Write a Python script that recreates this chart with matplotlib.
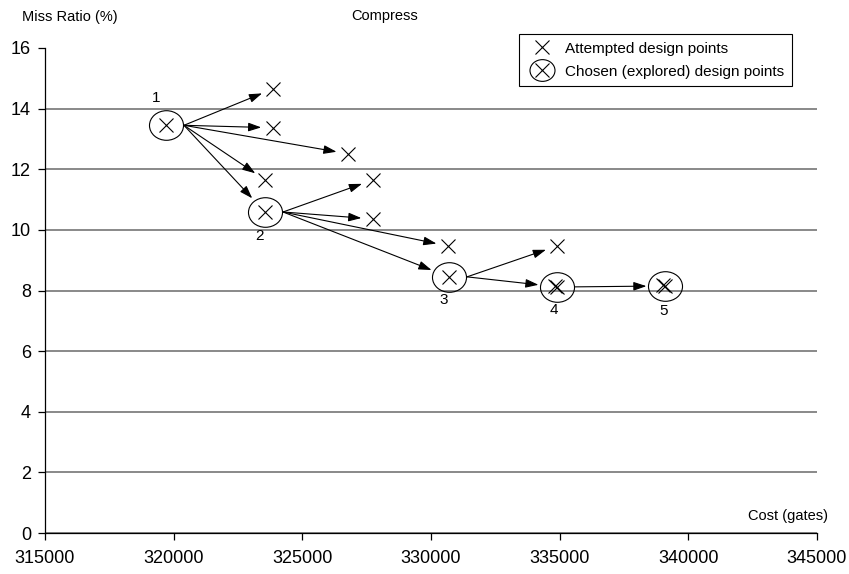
import matplotlib
matplotlib.use("Agg")
import matplotlib.pyplot as plt
import matplotlib.transforms as mtransforms
from matplotlib.lines import Line2D
from matplotlib.path import Path
import numpy as np

plt.rcParams['font.family'] = ['Liberation Sans', 'DejaVu Sans']

# puntos elegidos (explorados), numerados 1..5
chosen_cost = [319700, 323550, 330700, 334900, 339100]
chosen_miss = [13.45, 10.59, 8.45, 8.12, 8.15]
chosen_labels = ["1", "2", "3", "4", "5"]

# puntos intentados y de qué punto elegido salen
attempted_cost = [323860, 323860, 326780, 323550, 327750, 327750, 330660, 334900, 334800, 339000]
attempted_miss = [14.65, 13.37, 12.51, 11.65, 11.65, 10.36, 9.47, 9.47, 8.16, 8.18]
attempted_parent = [0, 0, 0, 0, 1, 1, 1, 2, None, None]

x_ticks = [315000, 320000, 325000, 330000, 335000, 340000, 345000]
y_ticks = [0, 2, 4, 6, 8, 10, 12, 14, 16]


def main():
    fig = plt.figure(figsize=(8.49, 5.74), dpi=100)
    ax = fig.add_axes([45 / 849, 1 - 533 / 574, (817 - 45) / 849, (533 - 48) / 574])

    ax.set_xlim(315000, 345000)
    ax.set_ylim(0, 16)
    ax.set_xticks(x_ticks)
    ax.set_yticks(y_ticks)
    ax.set_xticklabels([str(t) for t in x_ticks])
    ax.tick_params(axis='both', labelsize=13, length=5, width=0.9, color='black')
    ax.tick_params(axis='x', pad=7)
    ax.tick_params(axis='y', pad=5)

    for s in ["top", "right"]:
        ax.spines[s].set_visible(False)
    for s in ["left", "bottom"]:
        ax.spines[s].set_linewidth(0.9)

    ax.yaxis.grid(True, color='#6a6a6a', linewidth=1.1)
    ax.set_axisbelow(True)
    gl = ax.yaxis.get_gridlines()
    gl[-1].set_visible(False)

    circ = Path.unit_circle()
    ellipse = Path(circ.vertices * np.array([1.15, 1.0]), circ.codes)

    ax.plot(attempted_cost, attempted_miss, linestyle='none', marker='x',
            markersize=10, markeredgewidth=0.8, color='black', zorder=4)
    ax.plot(chosen_cost, chosen_miss, linestyle='none', marker='x',
            markersize=10, markeredgewidth=0.8, color='black', zorder=4)
    ax.plot(chosen_cost, chosen_miss, linestyle='none', marker=ellipse,
            markersize=24.5, markeredgewidth=0.8, markerfacecolor='none',
            markeredgecolor='black', zorder=4)

    # las flechas salen del borde derecho del circulo
    inicio = ax.transData + mtransforms.ScaledTranslation(18 / 100, 0, fig.dpi_scale_trans)
    estilo = dict(arrowstyle='-|>,head_length=0.65,head_width=0.22', color='black',
                  lw=0.8, mutation_scale=12, shrinkA=0)

    for c, m, p in zip(attempted_cost, attempted_miss, attempted_parent):
        if p is None:
            continue
        ax.annotate("", xy=(c, m), xytext=(chosen_cost[p], chosen_miss[p]),
                    textcoords=inicio, arrowprops=dict(estilo, shrinkB=8.5), zorder=5)

    for i in range(len(chosen_cost) - 1):
        ax.annotate("", xy=(chosen_cost[i + 1], chosen_miss[i + 1]),
                    xytext=(chosen_cost[i], chosen_miss[i]),
                    textcoords=inicio, arrowprops=dict(estilo, shrinkB=13.5), zorder=5)

    offsets = [(-7, 20), (-4, -17), (-4, -17), (-2, -17), (-1, -18)]
    for c, m, lab, off in zip(chosen_cost, chosen_miss, chosen_labels, offsets):
        ax.annotate(lab, xy=(c, m), xytext=off, textcoords='offset points',
                    ha='center', va='center', fontsize=11)

    fig.text(22 / 849, 1 - 17 / 574, "Miss Ratio (%)", fontsize=10.5, ha='left', va='center')
    fig.text(385 / 849, 1 - 16 / 574, "Compress", fontsize=10.5, ha='center', va='center')
    fig.text(828 / 849, 1 - 516 / 574, "Cost (gates)", fontsize=10.5, ha='right', va='center')

    h_att = Line2D([], [], linestyle='none', marker='x', markersize=10,
                   markeredgewidth=0.8, color='black')
    h_circ = Line2D([], [], linestyle='none', marker=ellipse, markersize=18,
                    markeredgewidth=0.8, markerfacecolor='none', markeredgecolor='black')
    leg = fig.legend([h_att, (h_circ, h_att)],
                     ["Attempted design points", "Chosen (explored) design points"],
                     loc='upper right', bbox_to_anchor=(792 / 849, 1 - 34 / 574),
                     bbox_transform=fig.transFigure, borderaxespad=0, fontsize=11,
                     fancybox=False, framealpha=1, edgecolor='black',
                     handlelength=2.0, handletextpad=0.5, borderpad=0.5,
                     labelspacing=0.6)
    leg.get_frame().set_linewidth(0.8)

    fig.savefig("out.png", dpi=100)


if __name__ == "__main__":
    main()
